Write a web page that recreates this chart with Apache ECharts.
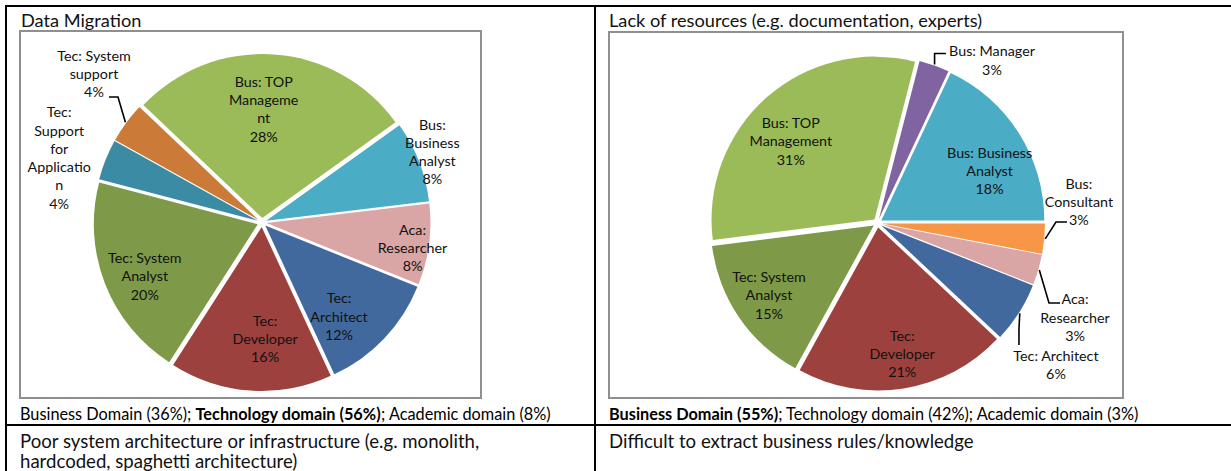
<!DOCTYPE html>
<html>
<head>
<meta charset="utf-8">
<script src="https://cdn.jsdelivr.net/npm/echarts@6/dist/echarts.min.js"></script>
<style>
  html, body { margin: 0; padding: 0; background: #ffffff; }
  #chart { width: 1231px; height: 471px; }
</style>
</head>
<body>
<div id="chart"></div>
<script>
// ---- Data Migration (share of respondents, %) ----
const migrationCategories = [
  'Bus: TOP\nManageme\nnt', 'Bus:\nBusiness\nAnalyst', 'Aca:\nResearcher', 'Tec:\nArchitect',
  'Tec:\nDeveloper', 'Tec: System\nAnalyst', 'Tec:\nSupport\nfor\nApplicatio\nn', 'Tec: System\nsupport'
];
const migrationValues = [28, 8, 8, 12, 16, 20, 4, 4];
const migrationDomains = ['Business', 'Business', 'Academic', 'Technology', 'Technology', 'Technology', 'Technology', 'Technology'];

// ---- Lack of resources (share of respondents, %) ----
const resourceCategories = [
  'Bus: TOP\nManagement', 'Bus: Manager', 'Bus: Business\nAnalyst', 'Bus:\nConsultant',
  'Aca:\nResearcher', 'Tec: Architect', 'Tec:\nDeveloper', 'Tec: System\nAnalyst'
];
const resourceValues = [31, 3, 18, 3, 3, 6, 21, 15];
const resourceDomains = ['Business', 'Business', 'Business', 'Business', 'Academic', 'Technology', 'Technology', 'Technology'];

// ---- Panel texts ----
const panelTitles = ['Data Migration', 'Lack of resources (e.g. documentation, experts)'];
const nextRowTitles = [
  'Poor system architecture or infrastructure (e.g. monolith,\nhardcoded, spaghetti architecture)',
  'Difficult to extract business rules/knowledge'
];

// ---- Styling ----
const migrationColors = ['#9BBB59', '#4BACC6', '#D9A6A5', '#41699D', '#9D413E', '#7E9A48', '#3A8BA3', '#CC7A38'];
const resourceColors  = ['#9BBB59', '#8064A2', '#4BACC6', '#F79646', '#D9A6A5', '#41699D', '#9D413E', '#7E9A48'];

const FONT = 'Lato, "Open Sans", sans-serif';

// Geometry of each pie (pixels / degrees); offset = how far every slice is pulled out
const migrationGeo = { center: [262, 222.5], radius: 164, startAngle: 136.5, offset: 4.5 };
const resourceGeo  = { center: [877.5, 223], radius: 163, startAngle: 187.2, offset: 4.5 };

// Label placement: inside labels sit at a fraction r of the radius on the slice's
// mid angle (plus a small nudge); callout labels hang off a leader line that starts
// on the slice's outer arc.
const migrationPlace = [
  { r: 0.69, dx: -6, dy: -1 },
  { r: 1.125, dx: -1.5, dy: -4 },
  { r: 0.93, dx: -0.7, dy: 5 },
  { r: 0.74, dx: -11, dy: 10 },
  { r: 0.71, dx: 11, dy: 0 },
  { r: 0.78, dx: 2, dy: 7 },
  { r: 1.3, dx: -5, dy: 14.5 },
  { line: [[-7.4, -25.2], [-16.4, -25.2]], lab: [-31.4, -48.7] }
];
const resourcePlace = [
  { r: 0.73, dx: -8, dy: 7 },
  { line: [[0, -11], [11.4, -11]], lab: [57.4, -4.4] },
  { r: 0.76, dx: 7.5, dy: 14 },
  { line: [[10.7, -16.9], [21.7, -16.9]], lab: [33.7, -37.4] },
  { line: [[9.7, 33], [20.7, 33]], lab: [35.7, 47] },
  { line: [[-0.8, 16], [-0.8, 31.7]], lab: [36.2, 51.2] },
  { r: 0.81, dx: 4, dy: 0 },
  { r: 0.8, dx: -0.7, dy: -1.5 }
];

// Mid angle of every slice, clockwise from 12 o'clock, in degrees
function midAngles(values, startAngle) {
  const total = values.reduce((a, b) => a + b, 0);
  const startCw = 90 - startAngle;
  let acc = 0;
  return values.map(v => {
    const m = startCw + (acc + v / 2) / total * 360;
    acc += v;
    return m;
  });
}

function makeLabelLayout(mids, geo, place) {
  return function (params) {
    const i = params.dataIndex;
    const p = place[i];
    const a = mids[i] * Math.PI / 180;
    const ux = Math.sin(a), uy = -Math.cos(a);
    const cx = geo.center[0], cy = geo.center[1];
    if (p.line) {
      const rs = geo.radius + geo.offset + 1;
      const sx = cx + ux * rs, sy = cy + uy * rs;
      return {
        x: sx + p.lab[0], y: sy + p.lab[1], align: 'center', verticalAlign: 'middle',
        labelLinePoints: [[sx, sy]].concat(p.line.map(q => [sx + q[0], sy + q[1]]))
      };
    }
    const rr = geo.radius * p.r;
    return { x: cx + ux * rr + p.dx, y: cy + uy * rr + p.dy, align: 'center', verticalAlign: 'middle' };
  };
}

// One pie layer per slice: the whole data set is laid out by the pie, only slice k is
// painted, and the layer is shifted outward along that slice's mid angle (exploded pie).
function explodedPie(cats, values, colors, geo, place) {
  const mids = midAngles(values, geo.startAngle);
  const layout = makeLabelLayout(mids, geo, place);
  return values.map((_, k) => {
    const a = mids[k] * Math.PI / 180;
    return {
      type: 'pie',
      center: [geo.center[0] + Math.sin(a) * geo.offset, geo.center[1] - Math.cos(a) * geo.offset],
      radius: geo.radius,
      startAngle: geo.startAngle,
      clockwise: true,
      avoidLabelOverlap: false,
      animation: false,
      silent: true,
      emphasis: { disabled: true },
      itemStyle: { borderWidth: 0 },
      label: {
        formatter: '{b}\n{c}%', color: '#111', fontFamily: FONT,
        fontSize: 14.3, lineHeight: 18.3
      },
      labelLine: { length: 8, length2: 8, lineStyle: { color: '#000', width: 1.6 } },
      labelLayout: layout,
      data: values.map((v, i) => i === k ? {
        value: v,
        name: cats[i],
        itemStyle: { color: colors[i] },
        label: { show: true, position: (place[i].line || place[i].r > 1) ? 'outside' : 'inside' },
        labelLine: { show: !!place[i].line }
      } : {
        value: v,
        name: cats[i],
        itemStyle: { color: 'transparent' },
        label: { show: false },
        labelLine: { show: false }
      })
    };
  });
}

function domainShare(values, domains, d) {
  return values.reduce((s, v, i) => s + (domains[i] === d ? v : 0), 0);
}

const mB = domainShare(migrationValues, migrationDomains, 'Business');
const mT = domainShare(migrationValues, migrationDomains, 'Technology');
const mA = domainShare(migrationValues, migrationDomains, 'Academic');
const rB = domainShare(resourceValues, resourceDomains, 'Business');
const rT = domainShare(resourceValues, resourceDomains, 'Technology');
const rA = domainShare(resourceValues, resourceDomains, 'Academic');

const captionRich = {
  n: { fontFamily: FONT, fontSize: 16.3, color: '#111' },
  b: { fontFamily: FONT, fontSize: 16.3, color: '#111', fontWeight: 'bold' }
};

const black = { stroke: '#000', lineWidth: 2 };
const boxStyle = { fill: 'transparent', stroke: '#8f8f8f', lineWidth: 2 };
const headFont = '18.2px ' + FONT;
const rowFont = '18.6px ' + FONT;

const graphic = [
  // table grid
  { type: 'line', shape: { x1: 5, y1: 6, x2: 1231, y2: 6 }, style: black },
  { type: 'line', shape: { x1: 6, y1: 5, x2: 6, y2: 471 }, style: black },
  { type: 'line', shape: { x1: 595, y1: 5, x2: 595, y2: 471 }, style: black },
  { type: 'line', shape: { x1: 5, y1: 425, x2: 1231, y2: 425 }, style: black },
  // chart frames
  { type: 'rect', shape: { x: 20, y: 31, width: 461, height: 367 }, style: boxStyle },
  { type: 'rect', shape: { x: 609, y: 32, width: 514, height: 366 }, style: boxStyle },
  // panel titles
  { type: 'text', x: 21, y: 20, style: { text: panelTitles[0], font: headFont, fill: '#111', verticalAlign: 'middle' } },
  { type: 'text', x: 609, y: 20, style: { text: panelTitles[1], font: headFont, fill: '#111', verticalAlign: 'middle' } },
  // domain summaries
  { type: 'text', x: 20, y: 413, style: {
      text: '{n|Business Domain (' + mB + '%); }{b|Technology domain (' + mT + '%)}{n|; Academic domain (' + mA + '%)}',
      rich: captionRich, verticalAlign: 'middle' } },
  { type: 'text', x: 609, y: 413, style: {
      text: '{b|Business Domain (' + rB + '%)}{n|; Technology domain (' + rT + '%); Academic domain (' + rA + '%)}',
      rich: captionRich, verticalAlign: 'middle' } },
  // next row headings
  { type: 'text', x: 20, y: 431, style: { text: nextRowTitles[0], font: rowFont, lineHeight: 20, fill: '#111', verticalAlign: 'top' } },
  { type: 'text', x: 609, y: 431, style: { text: nextRowTitles[1], font: rowFont, lineHeight: 20, fill: '#111', verticalAlign: 'top' } }
];

const chart = echarts.init(document.getElementById('chart'), null, { renderer: 'svg' });
chart.setOption({
  backgroundColor: '#ffffff',
  animation: false,
  graphic: graphic,
  series: explodedPie(migrationCategories, migrationValues, migrationColors, migrationGeo, migrationPlace)
    .concat(explodedPie(resourceCategories, resourceValues, resourceColors, resourceGeo, resourcePlace))
});
</script>
</body>
</html>
